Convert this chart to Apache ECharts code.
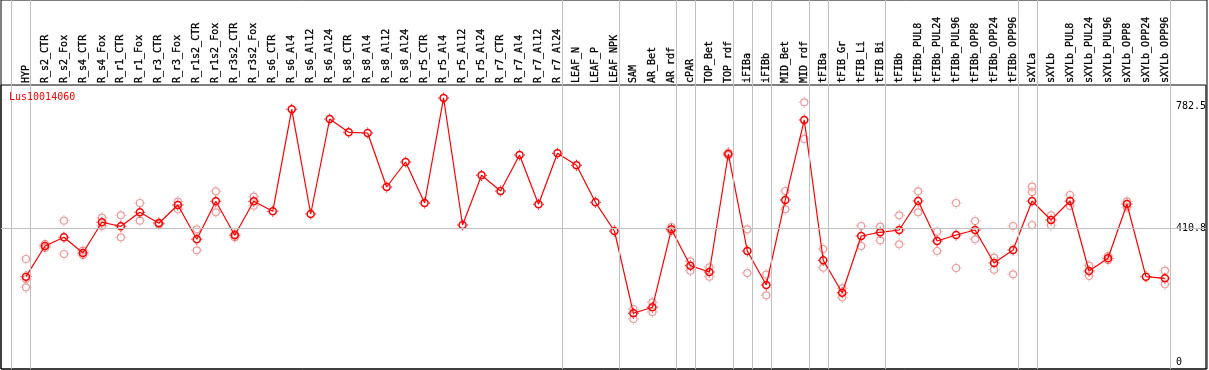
<!DOCTYPE html>
<html>
<head>
<meta charset="utf-8">
<script src="https://cdn.jsdelivr.net/npm/echarts@6/dist/echarts.min.js"></script>
<style>
html,body{margin:0;padding:0;background:#fff;}
#chart{width:1209px;height:370px;}
</style>
</head>
<body>
<div id="chart"></div>
<script>
const chartTitle = 'Lus10014060';
const categories = ['HYP','R_s2_CTR','R_s2_Fox','R_s4_CTR','R_s4_Fox','R_r1_CTR','R_r1_Fox','R_r3_CTR','R_r3_Fox','R_r1s2_CTR','R_r1s2_Fox','R_r3s2_CTR','R_r3s2_Fox','R_s6_CTR','R_s6_Al4','R_s6_Al12','R_s6_Al24','R_s8_CTR','R_s8_Al4','R_s8_Al12','R_s8_Al24','R_r5_CTR','R_r5_Al4','R_r5_Al12','R_r5_Al24','R_r7_CTR','R_r7_Al4','R_r7_Al12','R_r7_Al24','LEAF_N','LEAF_P','LEAF_NPK','SAM','AR_Bet','AR_rdf','cPAR','TOP_Bet','TOP_rdf','iFIBa','iFIBb','MID_Bet','MID_rdf','tFIBa','tFIB_Gr','tFIB_Li','tFIB_Bi','tFIBb','tFIBb_PUL8','tFIBb_PUL24','tFIBb_PUL96','tFIBb_OPP8','tFIBb_OPP24','tFIBb_OPP96','sXYLa','sXYLb','sXYLb_PUL8','sXYLb_PUL24','sXYLb_PUL96','sXYLb_OPP8','sXYLb_OPP24','sXYLb_OPP96'];
const meanValues = [262.8,356.7,383.3,335.2,429.2,416.9,459.7,426.1,482.1,377.2,493.4,389.4,493.4,462.8,774.8,454.5,745.1,704.4,702.3,537.1,613.6,488.2,809.4,420.9,572.9,524.9,635.0,484.2,640.2,603.5,490.3,402.5,150.8,169.2,407.7,296.4,277.1,638.1,341.4,237.4,497.4,742.1,312.9,213.8,387.2,398.6,405.6,494.3,372.0,390.3,405.6,304.7,344.4,494.3,436.2,494.3,280.2,319.0,485.1,262.8,257.9];
const repA = [316.9,362.8,434.0,342.3,443.2,450.6,488.2,427.9,492.2,407.7,524.0,393.4,507.5,null,null,null,null,null,null,null,null,null,null,null,null,null,null,null,null,null,null,null,164.0,184.4,414.8,309.9,291.5,642.7,407.7,268.9,524.9,796.2,347.5,227.3,417.8,415.7,450.6,524.0,400.4,488.2,433.1,320.9,417.8,538.0,450.6,512.7,296.4,326.1,493.4,null,281.1];
const repB = [230.3,350.6,332.2,329.1,417.8,383.3,434.0,422.4,468.9,343.5,459.7,383.3,479.9,null,null,null,null,null,null,null,null,null,null,null,null,null,null,null,null,null,null,null,133.4,154.8,402.5,281.1,262.8,633.5,274.1,205.9,468.9,683.9,290.3,199.7,356.7,374.1,361.9,459.7,341.4,289.4,377.2,284.2,270.1,521.8,420.0,479.0,264.9,313.8,475.0,null,239.5];
const repC = [255.7,null,null,null,null,null,null,null,null,null,null,null,null,null,null,null,null,null,null,null,null,null,null,null,null,null,null,null,null,null,null,null,null,null,null,null,null,null,null,null,null,null,null,null,null,null,null,null,null,null,null,null,null,420.9,null,null,null,null,null,null,null];
const yTickLabels = [0, 410.8, 782.5];
const refLineValue = 410.8;
const groupStarts = [0,1,29,32,35,36,38,39,40,42,43,46,53,54,61];

// layout constants (style only)
const X_MIN = -25/19, X_MAX = -25/19 + 1206/19;
const Y_MIN = -19.6, Y_MAX = 849.1;
const SEP_OFFSET = 14.5/19;
const FONT = '"DejaVu Sans Mono", monospace';
const TICKS = 'path://M10,0L10,2M10,18L10,20M0,10L2,10M18,10L20,10';
const RED = '#ff0000', PINK = '#ee9a9a';

const repData = [];
[repA, repB, repC].forEach(arr => arr.forEach((v, i) => { if (v !== null) repData.push([i, v]); }));
const meanData = meanValues.map((v, i) => [i, v]);

const chart = echarts.init(document.getElementById('chart'), null, {renderer: 'canvas'});
chart.setOption({
  animation: false,
  backgroundColor: '#fff',
  title: {
    text: chartTitle, left: 9, top: 92, padding: 0,
    textStyle: {color: RED, fontFamily: FONT, fontSize: 10, fontWeight: 'normal'}
  },
  grid: [
    {left: 1, right: 2, top: 85, bottom: 1, show: true, borderColor: '#000', borderWidth: 1, backgroundColor: 'transparent', z: 5},
    {left: 1, right: 2, top: 0, bottom: 1, show: true, borderColor: '#000', borderWidth: 1, backgroundColor: 'transparent', z: 5}
  ],
  xAxis: [
    {
      gridIndex: 0, type: 'value', min: X_MIN, max: X_MAX, position: 'top',
      axisLine: {show: false}, axisTick: {show: false}, splitLine: {show: false},
      axisLabel: {
        customValues: categories.map((c, i) => i),
        formatter: v => categories[Math.round(v)] || '',
        rotate: 90, margin: 2, color: '#000', fontFamily: FONT, fontSize: 10,
        lineHeight: 12, textBorderColor: '#000', textBorderWidth: 0.3
      }
    },
    {gridIndex: 1, type: 'value', min: X_MIN, max: X_MAX, show: false}
  ],
  yAxis: [
    {
      gridIndex: 0, type: 'value', min: Y_MIN, max: Y_MAX, position: 'right',
      axisLine: {show: false}, axisTick: {show: false}, splitLine: {show: false},
      axisLabel: {
        customValues: yTickLabels, inside: true, margin: 30, align: 'left',
        verticalAlign: 'middle', padding: [8, 0, 0, 0],
        color: '#000', fontFamily: FONT, fontSize: 10,
        formatter: v => String(v)
      }
    },
    {gridIndex: 1, type: 'value', min: 0, max: 1, show: false}
  ],
  series: [
    {
      type: 'line', xAxisIndex: 1, yAxisIndex: 1, data: [], silent: true, z: 1,
      markLine: {
        silent: true, symbol: 'none', animation: false,
        label: {show: false},
        lineStyle: {color: '#c0c0c0', width: 1, type: 'solid'},
        data: groupStarts.map(k => ({xAxis: k - SEP_OFFSET}))
      }
    },
    {
      type: 'scatter', xAxisIndex: 0, yAxisIndex: 0, data: repData, z: 2,
      symbol: 'circle', symbolSize: 7,
      itemStyle: {color: 'rgba(0,0,0,0)', borderColor: PINK, borderWidth: 1.2, opacity: 1},
      markLine: {
        silent: true, symbol: 'none', animation: false,
        label: {show: false},
        lineStyle: {color: '#c0c0c0', width: 1, type: 'solid'},
        data: [{yAxis: refLineValue}]
      }
    },
    {
      type: 'scatter', xAxisIndex: 0, yAxisIndex: 0, data: repData, z: 2, silent: true,
      symbol: TICKS, symbolSize: 11,
      itemStyle: {color: 'rgba(0,0,0,0)', borderColor: PINK, borderWidth: 1, opacity: 1}
    },
    {
      type: 'line', xAxisIndex: 0, yAxisIndex: 0, data: meanData, z: 3,
      symbol: 'circle', symbolSize: 7, showAllSymbol: true,
      lineStyle: {color: RED, width: 1.2},
      itemStyle: {color: 'rgba(0,0,0,0)', borderColor: RED, borderWidth: 1.5}
    },
    {
      type: 'scatter', xAxisIndex: 0, yAxisIndex: 0, data: meanData, z: 4, silent: true,
      symbol: TICKS, symbolSize: 11,
      itemStyle: {color: 'rgba(0,0,0,0)', borderColor: RED, borderWidth: 1, opacity: 1}
    }
  ]
});
</script>
</body>
</html>
